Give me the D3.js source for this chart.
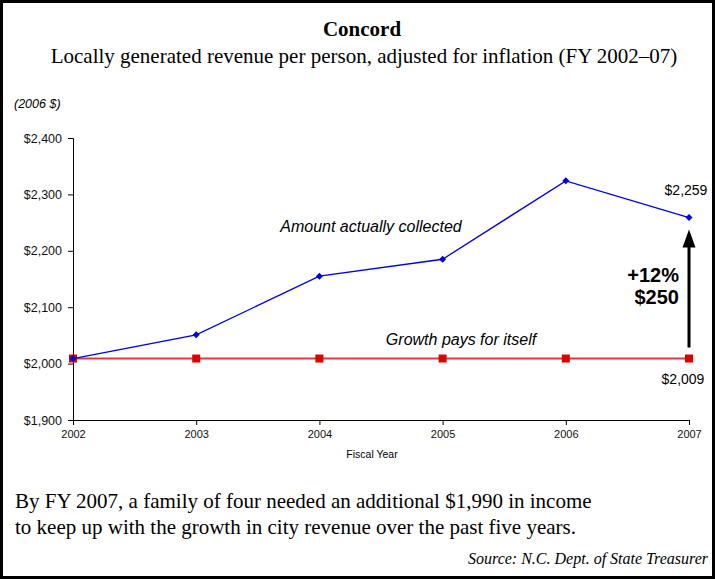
<!DOCTYPE html>
<html><head><meta charset="utf-8">
<script src="https://cdn.jsdelivr.net/npm/d3@7"></script>
<style>body{margin:0;background:#fff}svg{display:block}</style>
</head><body>
<svg id="c" width="715" height="579"></svg>
<script>
const years = [2002, 2003, 2004, 2005, 2006, 2007];
const collected = [2009, 2051, 2155, 2185, 2324, 2259];
const baseline = [2009, 2009, 2009, 2009, 2009, 2009];
const yTicks = [1900, 2000, 2100, 2200, 2300, 2400];

const svg = d3.select("#c");
const sans = "Liberation Sans, Arial, sans-serif";
const serif = "Liberation Serif, Times New Roman, serif";

svg.append("rect").attr("x",1.5).attr("y",1.5).attr("width",712).attr("height",576)
  .attr("fill","#fff").attr("stroke","#000").attr("stroke-width",3);

const x = d3.scalePoint().domain(years).range([73, 689]);
const y = d3.scaleLinear().domain([1900, 2400]).range([420, 138]);

svg.append("text").attr("x",362).attr("y",36).attr("text-anchor","middle")
  .attr("font-family",serif).attr("font-weight","bold").attr("font-size",21).text("Concord");
svg.append("text").attr("x",364).attr("y",63).attr("text-anchor","middle")
  .attr("font-family",serif).attr("font-size",21).text("Locally generated revenue per person, adjusted for inflation (FY 2002\u201307)");
svg.append("text").attr("x",14).attr("y",108).attr("font-family",sans).attr("font-style","italic")
  .attr("font-size",12.5).text("(2006 $)");

const fmt = d => "$" + d3.format(",")(d);
const ya = svg.append("g").attr("transform","translate(73,0)")
  .call(d3.axisLeft(y).tickValues(yTicks).tickFormat(fmt).tickSize(5).tickPadding(6));
ya.selectAll("text").attr("font-family",sans).attr("font-size",12.5).attr("fill","#111");
ya.select(".domain").attr("stroke","#000");
const xa = svg.append("g").attr("transform","translate(0,420)")
  .call(d3.axisBottom(x).tickFormat(d3.format("d")).tickSize(5).tickPadding(5));
xa.selectAll("text").attr("font-family",sans).attr("font-size",11).attr("fill","#111");
xa.select(".domain").attr("stroke","#000");

svg.append("text").attr("x",372).attr("y",458).attr("text-anchor","middle")
  .attr("font-family",sans).attr("font-size",10.5).text("Fiscal Year");

const line = d3.line().x((d,i)=>x(years[i])).y(d=>y(d));
svg.append("path").datum(baseline).attr("d",line).attr("fill","none")
  .attr("stroke","#e03a3a").attr("stroke-width",2);
svg.selectAll(".sq").data(baseline).enter().append("rect")
  .attr("x",(d,i)=>x(years[i])-4).attr("y",d=>y(d)-4).attr("width",8).attr("height",8).attr("fill","#dd0000");
svg.append("path").datum(collected).attr("d",line).attr("fill","none")
  .attr("stroke","#0000dd").attr("stroke-width",1.3);
svg.selectAll(".dm").data(collected).enter().append("path")
  .attr("d","M0,-3.5L3.5,0L0,3.5L-3.5,0Z")
  .attr("transform",(d,i)=>`translate(${x(years[i])},${y(d)})`).attr("fill","#0000dd");

svg.append("text").attr("x",371).attr("y",232).attr("text-anchor","middle")
  .attr("font-family",sans).attr("font-style","italic").attr("font-size",16).text("Amount actually collected");
svg.append("text").attr("x",461).attr("y",345).attr("text-anchor","middle")
  .attr("font-family",sans).attr("font-style","italic").attr("font-size",16).text("Growth pays for itself");

svg.append("text").attr("x",686).attr("y",195).attr("text-anchor","middle")
  .attr("font-family",sans).attr("font-size",14).text(fmt(collected[5]));
svg.append("text").attr("x",683).attr("y",384).attr("text-anchor","middle")
  .attr("font-family",sans).attr("font-size",14).text(fmt(baseline[5]));

// arrow
const ax = x(2007);
svg.append("line").attr("x1",ax).attr("x2",ax).attr("y1",y(baseline[5])-11).attr("y2",y(collected[5])+28)
  .attr("stroke","#000").attr("stroke-width",3);
svg.append("path").attr("d",`M${ax},${y(collected[5])+12}L${ax+6.5},${y(collected[5])+30}L${ax-6.5},${y(collected[5])+30}Z`).attr("fill","#000");
svg.append("text").attr("x",679).attr("y",282).attr("text-anchor","end")
  .attr("font-family",sans).attr("font-weight","bold").attr("font-size",20).text("+12%");
svg.append("text").attr("x",679).attr("y",304).attr("text-anchor","end")
  .attr("font-family",sans).attr("font-weight","bold").attr("font-size",20).text("$250");

svg.append("text").attr("x",15).attr("y",508).attr("font-family",serif).attr("font-size",21)
  .text("By FY 2007, a family of four needed an additional $1,990 in income");
svg.append("text").attr("x",15).attr("y",534).attr("font-family",serif).attr("font-size",21)
  .text("to keep up with the growth in city revenue over the past five years.");
svg.append("text").attr("x",708).attr("y",564).attr("text-anchor","end").attr("font-family",serif)
  .attr("font-style","italic").attr("font-size",16).text("Source: N.C. Dept. of State Treasurer");
</script>
</body></html>
